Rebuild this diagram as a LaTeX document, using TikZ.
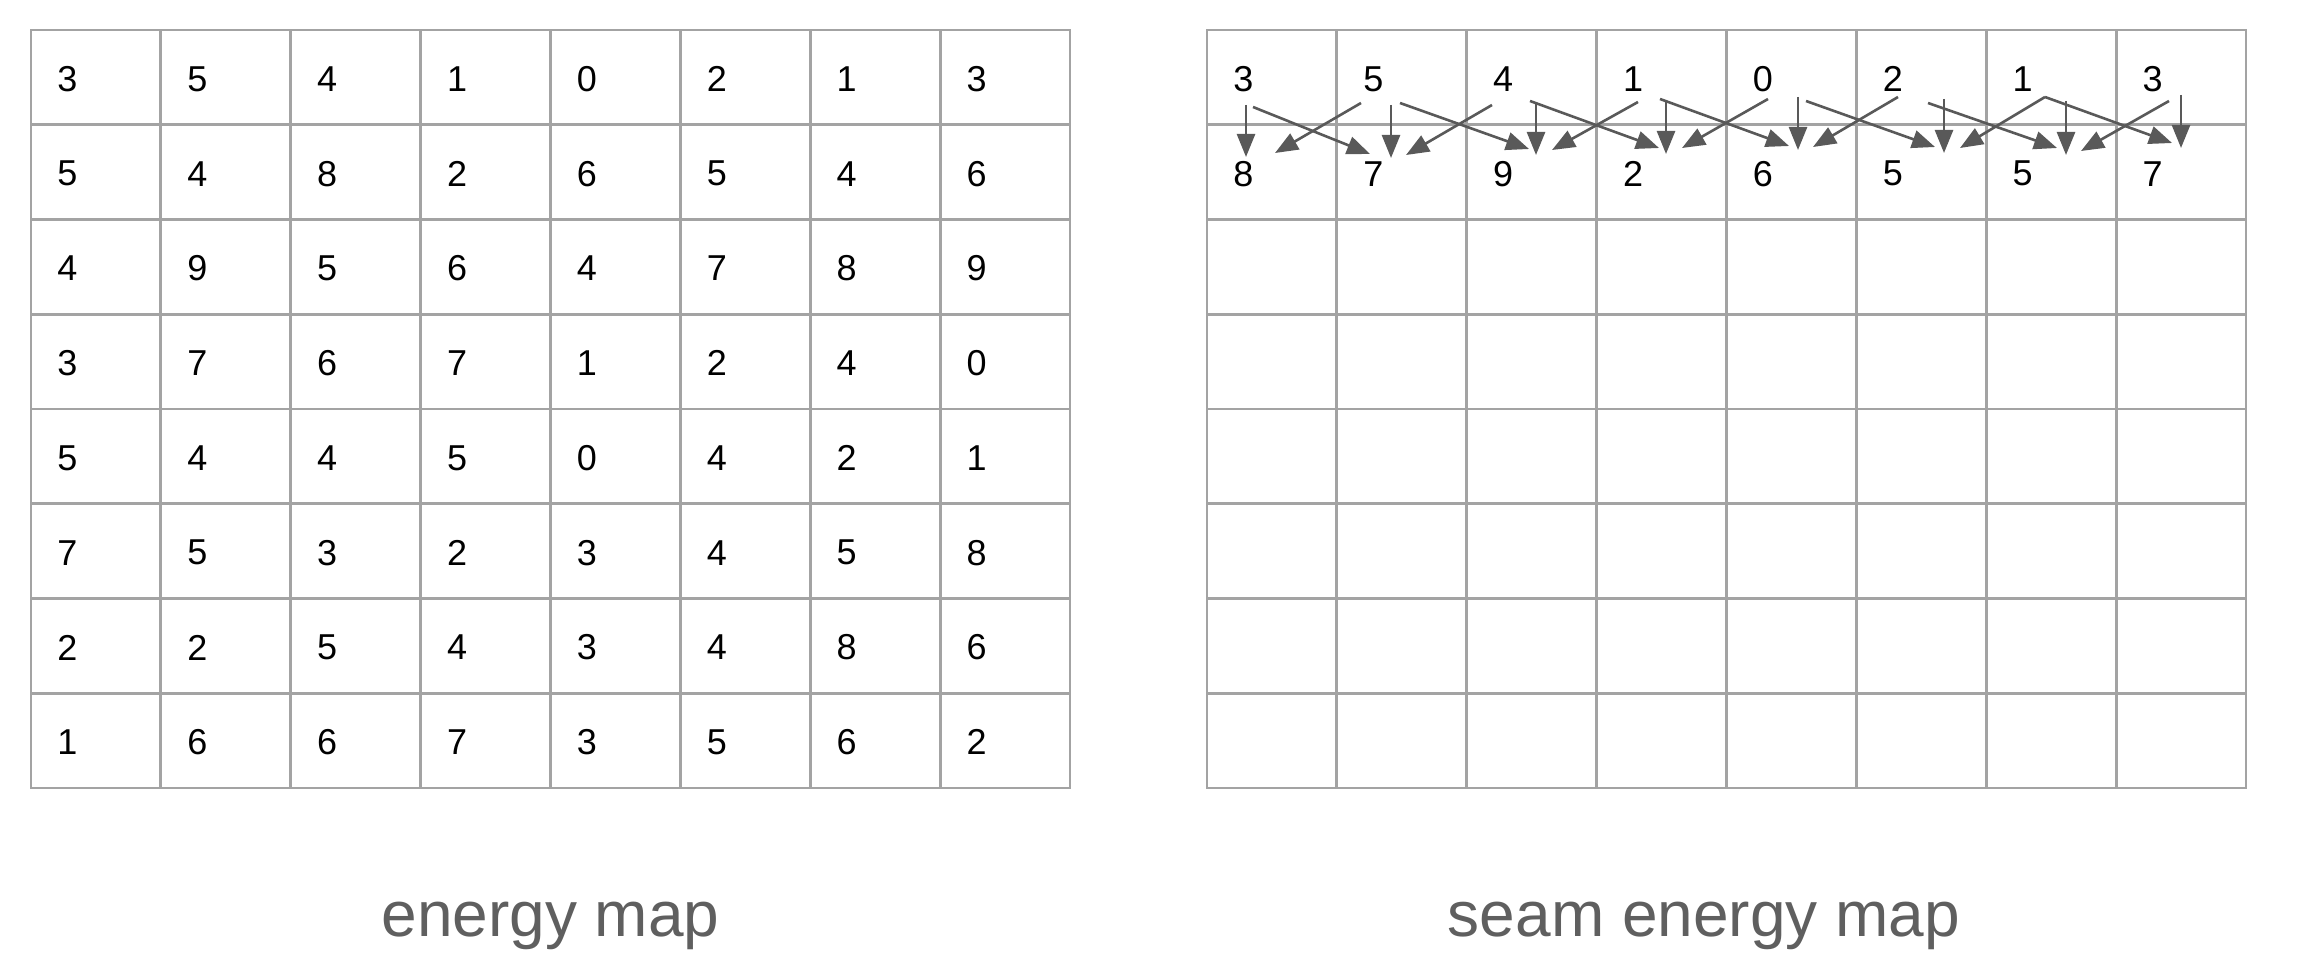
\documentclass[tikz,border=0pt]{standalone}
\usepackage{fontspec}
\setmainfont{Liberation Sans}
\usetikzlibrary{arrows.meta}
\definecolor{gridgray}{HTML}{A3A3A3}
\definecolor{arrowgray}{HTML}{595959}
\definecolor{labelgray}{HTML}{5F5F5F}
\begin{document}
\begin{tikzpicture}[x=0.5pt,y=-0.5pt,
  gridline/.style={draw=gridgray,line width=1.4pt,line cap=rect},
  num/.style={anchor=west,inner sep=0pt,font=\fontsize{18pt}{20pt}\selectfont},
  seam/.style={draw=arrowgray,line width=1.3pt,-{Triangle[length=11.5pt,width=9pt]}},
  maplabel/.style={anchor=base,inner sep=0pt,text=labelgray,font=\fontsize{32pt}{36pt}\selectfont}]
\useasboundingbox (0,0) rectangle (2302,978);
% grids
\foreach \gx in {31,1207} {
  \foreach \i in {0,...,8} \draw[gridline] ({\gx+\i*129.875},30) -- ({\gx+\i*129.875},788);
  \foreach \j in {0,...,8} \draw[gridline] (\gx,{30+\j*94.75}) -- ({\gx+1039},{30+\j*94.75});
}
% energy map numbers
\foreach \row [count=\r from 0] in {{3,5,4,1,0,2,1,3},{5,4,8,2,6,5,4,6},{4,9,5,6,4,7,8,9},{3,7,6,7,1,2,4,0},{5,4,4,5,0,4,2,1},{7,5,3,2,3,4,5,8},{2,2,5,4,3,4,8,6},{1,6,6,7,3,5,6,2}} {
  \foreach \v [count=\c from 0] in \row {
    \node[num] (e-\r-\c) at ({31+\c*129.875+26},{30+\r*94.75+49}) {\v};
  }
}
% seam energy map numbers
\foreach \row [count=\r from 0] in {{3,5,4,1,0,2,1,3},{8,7,9,2,6,5,5,7}} {
  \foreach \v [count=\c from 0] in \row {
    \node[num] (s-\r-\c) at ({1207+\c*129.875+26},{30+\r*94.75+49}) {\v};
  }
}
% seam arrows
\foreach \n/\sx/\sy/\tx/\ty in {
  v0/1246/105/1246/157, r0/1253/107/1370/154,
  l1/1361/103/1275/153, v1/1391/105/1391/158, r1/1400/103/1529/149,
  l2/1492/105/1406/155, v2/1536/102/1536/155, r2/1530/101/1659/148,
  l3/1638/102/1552/150, v3/1666/100/1666/154, r3/1660/99/1789/146,
  l4/1768/99/1682/148, v4/1798/97/1798/150, r4/1806/101/1935/147,
  l5/1898/97/1813/147, v5/1944/99/1944/153, r5/1928/103/2057/148,
  l6/2045/97/1960/148, v6/2066/101/2066/155, r6/2045/97/2172/143,
  l7/2169/101/2081/151, v7/2181/95/2181/148} {
  \coordinate (a\n s) at (\sx,\sy);
  \coordinate (a\n t) at (\tx,\ty);
  \draw[seam] (a\n s) -- (a\n t);
}
% labels
\node[maplabel] (lbl1) at (550.5,936) {energy map};
\node[maplabel] (lbl2) at (1704,936) {seam energy map};
\end{tikzpicture}
\end{document}
